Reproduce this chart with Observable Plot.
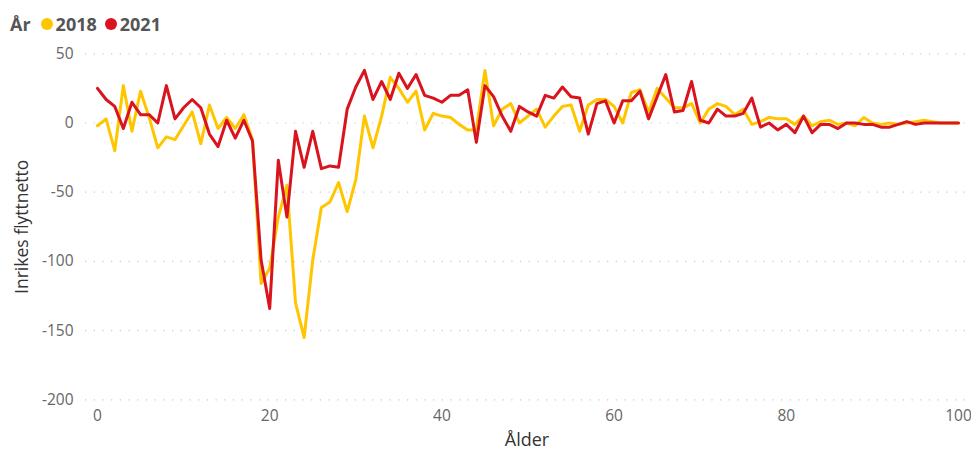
<!DOCTYPE html>
<html>
<head>
<meta charset="utf-8">
<script src="https://cdn.jsdelivr.net/npm/d3@7"></script>
<script src="https://cdn.jsdelivr.net/npm/@observablehq/plot@0.6"></script>
<style>
  html, body { margin: 0; padding: 0; background: #fff; width: 971px; height: 450px; overflow: hidden; }
  #legend { height: 40px; box-sizing: border-box; padding: 7px 0 0 10px; display: flex; align-items: center;
            font-family: "Open Sans", sans-serif; font-weight: bold; font-size: 18px; color: #555; }
  #legend .dot { display: inline-block; width: 12px; height: 12px; border-radius: 50%; margin: 0 3px 0 0; }
  #legend .item { display: flex; align-items: center; }
</style>
</head>
<body>
<div id="legend"></div>
<div id="chart"></div>
<script>
const ages = [0,1,2,3,4,5,6,7,8,9,10,11,12,13,14,15,16,17,18,19,20,21,22,23,24,25,26,27,28,29,30,31,32,33,34,35,36,37,38,39,40,41,42,43,44,45,46,47,48,49,50,51,52,53,54,55,56,57,58,59,60,61,62,63,64,65,66,67,68,69,70,71,72,73,74,75,76,77,78,79,80,81,82,83,84,85,86,87,88,89,90,91,92,93,94,95,96,97,98,99,100];

const values2018 = [-2,3,-20,27,-6,23,4,-18,-10,-12,-2,8,-15,13,-4,4,-4,6,-12,-116,
  -105,-68,-45,-130,-155,-99,-61,-57,-43,-64,-41,5,-18,5,33,25,15,23,-5,7,
  5,4,-1,-5,-5,38,-2,10,14,0,5,10,-3,5,12,13,-6,13,17,17,
  12,0,22,24,8,25,18,11,11,14,0,10,14,12,6,10,-1,1,4,3,
  3,-1,5,-2,1,2,-1,0,-2,4,0,-1,0,-1,0,1,2,1,0,0,0];

const values2021 = [25,17,12,-4,15,6,6,0,27,3,11,17,11,-8,-17,2,-11,2,-13,-99,
  -134,-27,-68,-6,-32,-6,-33,-31,-32,10,26,38,17,30,17,36,25,35,20,18,
  15,20,20,24,-14,27,19,5,-6,12,8,5,20,18,26,19,18,-8,14,16,
  0,16,16,23,3,19,35,8,9,30,2,0,10,5,5,7,18,-3,0,-5,
  -1,-7,5,-7,-1,-1,-4,0,0,-1,-1,-3,-3,-1,1,-1,0,0,0,0,0];

const years = ["2018", "2021"];
const colors = ["#FFC600", "#D9141E"];
const yTicks = [-200, -150, -100, -50, 0, 50];
const xTicks = [0, 20, 40, 60, 80, 100];
const legendTitle = "År";
const xTitle = "Ålder";
const yTitle = "Inrikes flyttnetto";

const data = [];
ages.forEach((a, i) => {
  data.push({age: a, value: values2018[i], year: years[0]});
  data.push({age: a, value: values2021[i], year: years[1]});
});

// legend
const legend = document.getElementById("legend");
const t = document.createElement("span");
t.textContent = legendTitle;
legend.appendChild(t);
years.forEach((y, i) => {
  const item = document.createElement("span");
  item.className = "item";
  item.style.marginLeft = i === 0 ? "10px" : "8px";
  const dot = document.createElement("span");
  dot.className = "dot";
  dot.style.background = colors[i];
  const lab = document.createElement("span");
  lab.textContent = y;
  item.appendChild(dot);
  item.appendChild(lab);
  legend.appendChild(item);
});

const fmt = d => String(d);

const chart = Plot.plot({
  width: 971,
  height: 410,
  marginLeft: 85,
  marginRight: 3,
  marginTop: 13.3,
  marginBottom: 50.7,
  style: {fontFamily: "'Open Sans', sans-serif", fontSize: "15.5px", color: "#666", background: "#fff", overflow: "visible"},
  x: {domain: [0, 100], insetLeft: 12, insetRight: 10, label: null},
  y: {domain: [-200, 50], label: null},
  color: {domain: years, range: colors},
  marks: [
    Plot.gridY(yTicks, {stroke: "#c8c8c8", strokeOpacity: 1, strokeWidth: 1.2, strokeDasharray: "1.2,7.5"}),
    Plot.axisY(yTicks, {tickSize: 0, tickPadding: 12, tickFormat: fmt, label: null, fill: "#666"}),
    Plot.axisX(xTicks, {tickSize: 0, tickPadding: 10, tickFormat: fmt, label: null, fill: "#666"}),
    Plot.line(data, {x: "age", y: "value", z: "year", stroke: "year", strokeWidth: 3, strokeLinejoin: "round", strokeLinecap: "round"}),
    Plot.text([xTitle], {frameAnchor: "bottom", lineAnchor: "bottom", textAnchor: "middle", dy: 46, text: d => d, fontSize: 18, fill: "#333"}),
    Plot.text([yTitle], {frameAnchor: "left", textAnchor: "middle", lineAnchor: "middle", dx: -63, rotate: -90, text: d => d, fontSize: 17.5, fill: "#333"})
  ]
});
document.getElementById("chart").appendChild(chart);
</script>
</body>
</html>
